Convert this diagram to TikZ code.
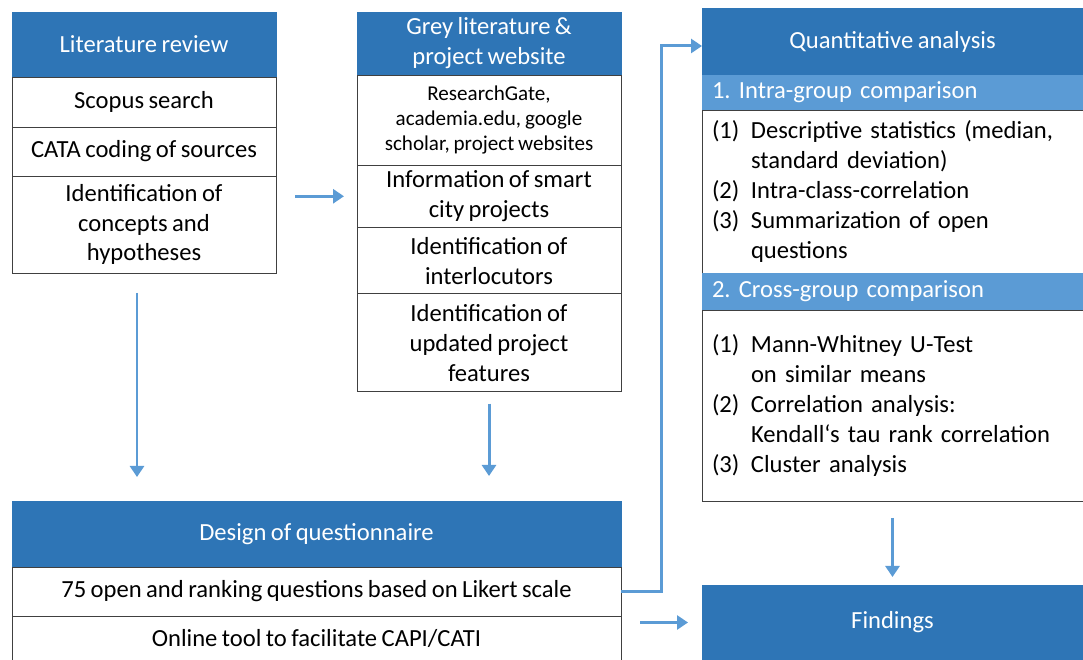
\documentclass[tikz,border=0pt]{standalone}
\usepackage{fontspec}
\setmainfont{Carlito}[WordSpace=0.8]
\frenchspacing
\usetikzlibrary{arrows.meta,positioning}
\definecolor{headblue}{HTML}{2E75B6}
\definecolor{subblue}{HTML}{5B9BD5}
\definecolor{arrowblue}{HTML}{5B9BD5}
\newcommand{\rowfont}{\fontsize{14}{17}\selectfont}
\newcommand{\smallrowfont}{\fontsize{12}{14.2}\selectfont}
\newcommand{\itemlbl}[1]{\makebox[0.78cm][l]{(#1)}}
\newcommand{\itemgap}{\hspace*{0.78cm}}

\begin{document}
\begin{tikzpicture}[
      head/.style={fill=headblue,draw=headblue,text=white,align=center,font=\rowfont,
                   inner xsep=0.1cm,outer sep=0pt},
      row/.style={draw=black!75,fill=white,align=center,font=\rowfont,
                  inner xsep=0.1cm,outer sep=0pt},
      subhead/.style={fill=subblue,draw=subblue,text=white,align=left,font=\rowfont,
                      text width=7.22cm,inner xsep=0.2cm,outer sep=0pt},
      list/.style={draw=black!75,fill=white,align=left,font=\rowfont,
                   text width=7.22cm,inner xsep=0.2cm,outer sep=0pt},
      arr/.style={draw=arrowblue,line width=1.7pt,-{Triangle[length=0.22cm,width=0.28cm]}}
    ]
    \useasboundingbox (0,0) rectangle (21.66,13.2);

    % literature review
    \node[head,anchor=north west,minimum width=5.28cm,minimum height=1.3cm] (lit) at (0.24,12.96)
      {Literature review};
    \node[row,below=0pt of lit,minimum width=5.28cm,minimum height=1.0cm] (scopus) {Scopus search};
    \node[row,below=0pt of scopus,minimum width=5.28cm,minimum height=0.98cm] (cata)
      {CATA coding of sources};
    \node[row,below=0pt of cata,minimum width=5.28cm,minimum height=1.94cm] (ident)
      {Identification of\\concepts and\\hypotheses};

    % grey literature
    \node[head,anchor=north west,minimum width=5.28cm,minimum height=1.24cm] (grey) at (7.14,12.96)
      {Grey literature \&\\project website};
    \node[row,below=0pt of grey,minimum width=5.28cm,minimum height=1.8cm,font=\smallrowfont] (rg)
      {ResearchGate,\\academia.edu, google\\scholar, project websites};
    \node[row,below=0pt of rg,minimum width=5.28cm,minimum height=1.24cm] (info)
      {Information of smart\\city projects};
    \node[row,below=0pt of info,minimum width=5.28cm,minimum height=1.32cm] (inter)
      {Identification of\\interlocutors};
    \node[row,below=0pt of inter,minimum width=5.28cm,minimum height=1.96cm] (feat)
      {Identification of\\updated project\\features};

    % quantitative analysis
    \node[head,anchor=north west,minimum width=7.62cm,minimum height=1.34cm] (quant) at (14.04,13.04)
      {Quantitative analysis};
    \node[subhead,below=0pt of quant,minimum height=0.7cm] (intra) {1. Intra-group comparison};
    \node[list,below=0pt of intra,minimum height=3.26cm] (intralist)
      {\itemlbl{1}Descriptive statistics (median,\\
       \itemgap standard deviation)\\
       \itemlbl{2}Intra-class-correlation\\
       \itemlbl{3}Summarization of open\\
       \itemgap questions};
    \node[subhead,below=0pt of intralist,minimum height=0.74cm] (cross) {2. Cross-group comparison};
    \node[list,below=0pt of cross,minimum height=3.82cm] (crosslist)
      {\itemlbl{1}Mann-Whitney U-Test\\
       \itemgap on similar means\\
       \itemlbl{2}Correlation analysis:\\
       \itemgap Kendall‘s tau rank correlation\\
       \itemlbl{3}Cluster analysis};

    % questionnaire and findings
    \node[head,anchor=north west,minimum width=12.18cm,minimum height=1.32cm] (quest) at (0.24,3.18)
      {Design of questionnaire};
    \node[row,below=0pt of quest,minimum width=12.18cm,minimum height=0.98cm] (likert)
      {75 open and ranking questions based on Likert scale};
    \node[row,below=0pt of likert,minimum width=12.18cm,minimum height=0.88cm] (online)
      {Online tool to facilitate CAPI/CATI};
    \node[head,anchor=north west,minimum width=7.62cm,minimum height=1.5cm] (findings) at (14.04,1.5)
      {Findings};

    \draw[arr,shorten <=0.38cm,shorten >=0.26cm] (info.west -| ident.east) -- (info.west);
    \draw[arr,shorten <=0.4cm,shorten >=0.48cm] ([xshift=-0.14cm]ident.south)
      -- ([xshift=-0.14cm]ident.south |- quest.north);
    \draw[arr,shorten <=0.24cm,shorten >=0.5cm] (feat.south) -- (feat.south |- quest.north);
    \draw[arr] (likert.east) -- ++(0.8,0) |- ([yshift=-0.09cm]quant.west);
    \draw[arr,shorten <=0.38cm,shorten >=0.28cm] (findings.west -| online.east) -- (findings.west);
    \draw[arr,shorten <=0.34cm,shorten >=0.16cm] (crosslist.south) -- (findings.north);
  \end{tikzpicture}
\end{document}
